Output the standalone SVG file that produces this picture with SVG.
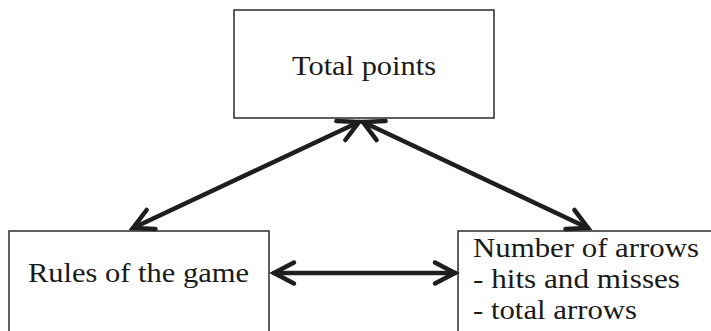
<svg xmlns="http://www.w3.org/2000/svg" width="711" height="331" viewBox="0 0 711 331">
<style>
.box{fill:#fff;stroke:#2a2a2a;stroke-width:1.5}
.t{font-family:"Liberation Serif","Times New Roman",serif;font-size:28px;fill:#1a1a1a}
.c{stroke:#1e1e1e;stroke-width:4.5;fill:none;stroke-linecap:round}
</style>
<defs>
<marker id="ah" markerUnits="userSpaceOnUse" viewBox="-26 -14 30 28" refX="0" refY="0" markerWidth="30" markerHeight="28" orient="auto-start-reverse" overflow="visible">
<path d="M -20 -10.5 L 0 0 L -20 10.5" fill="none" stroke="#1e1e1e" stroke-width="4.5" stroke-linecap="round" stroke-linejoin="miter"/>
</marker>
</defs>
<rect width="711" height="331" fill="#fff"/>
<g id="node-total">
<rect class="box" x="234" y="10" width="260" height="108"/>
<text class="t" x="292" y="75" textLength="144" lengthAdjust="spacingAndGlyphs">Total points</text>
</g>
<g id="node-rules">
<rect class="box" x="9" y="231" width="260" height="110"/>
<text class="t" x="28" y="282" textLength="221" lengthAdjust="spacingAndGlyphs">Rules of the game</text>
</g>
<g id="node-arrows">
<rect class="box" x="458" y="231" width="270" height="110"/>
<text class="t" x="473" y="257" textLength="226" lengthAdjust="spacingAndGlyphs">Number of arrows</text>
<text class="t" x="473" y="288" textLength="207" lengthAdjust="spacingAndGlyphs">- hits and misses</text>
<text class="t" x="473" y="319" textLength="164" lengthAdjust="spacingAndGlyphs">- total arrows</text>
</g>
<g id="connectors">
<line class="c" x1="359" y1="122" x2="133" y2="228" marker-start="url(#ah)" marker-end="url(#ah)"/>
<line class="c" x1="363" y1="122" x2="588" y2="228" marker-start="url(#ah)" marker-end="url(#ah)"/>
<line class="c" x1="274" y1="273" x2="455" y2="273" marker-start="url(#ah)" marker-end="url(#ah)"/>
</g>
</svg>
